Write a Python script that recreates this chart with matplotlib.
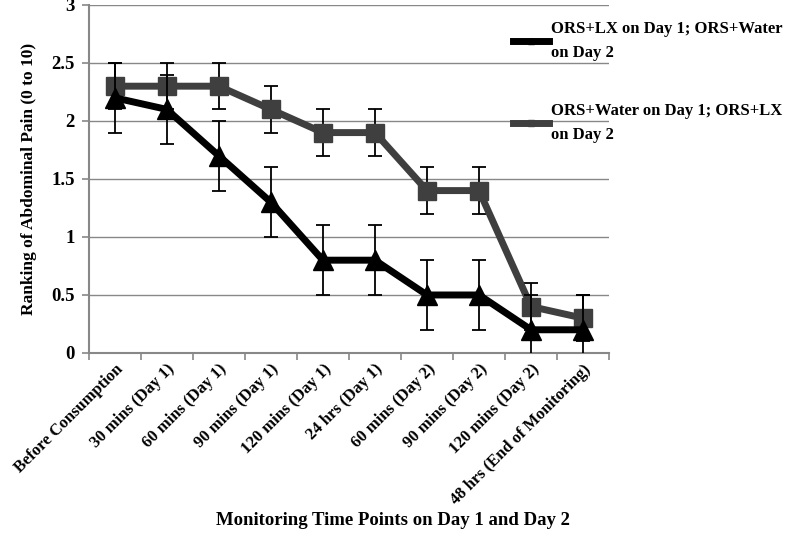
import matplotlib.pyplot as plt
import numpy as np

plt.rcParams['font.family'] = ['Liberation Serif', 'DejaVu Serif']

time_points = ["Before Consumption", "30 mins (Day 1)", "60 mins (Day 1)",
               "90 mins (Day 1)", "120 mins (Day 1)", "24 hrs (Day 1)",
               "60 mins (Day 2)", "90 mins (Day 2)", "120 mins (Day 2)",
               "48 hrs (End of Monitoring)"]

lx_first = [2.2, 2.1, 1.7, 1.3, 0.8, 0.8, 0.5, 0.5, 0.2, 0.2]
lx_first_err = [0.3, 0.3, 0.3, 0.3, 0.3, 0.3, 0.3, 0.3, 0.3, 0.3]
water_first = [2.3, 2.3, 2.3, 2.1, 1.9, 1.9, 1.4, 1.4, 0.4, 0.3]
water_first_err = [0.2, 0.2, 0.2, 0.2, 0.2, 0.2, 0.2, 0.2, 0.2, 0.2]

label1 = "ORS+LX on Day 1; ORS+Water\non Day 2"
label2 = "ORS+Water on Day 1; ORS+LX\non Day 2"

fig = plt.figure(figsize=(7.85, 5.55), dpi=100)
ax = fig.add_axes([0.113, 0.364, 0.663, 0.627])

x = np.arange(len(time_points))

ax.errorbar(x, lx_first, yerr=lx_first_err, color='black', lw=5,
            marker='^', ms=14, ecolor='black', elinewidth=1.3,
            capsize=5, capthick=1.3, label=label1, zorder=3)
ax.errorbar(x, water_first, yerr=water_first_err, color='#3f3f3f', lw=5,
            marker='s', ms=13, ecolor='black', elinewidth=1.3,
            capsize=5, capthick=1.3, label=label2, zorder=2)

ax.set_xlim(-0.5, len(time_points) - 0.5)
ax.set_ylim(0, 3)
ax.set_yticks(np.arange(0, 3.01, 0.5))
ax.set_yticklabels(['0', '0.5', '1', '1.5', '2', '2.5', '3'],
                   fontsize=13.5, fontweight='bold')
ax.yaxis.grid(True, color='#888888', lw=1)
ax.set_axisbelow(True)

ax.set_xticks(x)
ax.set_xticklabels(time_points, rotation=45, ha='right',
                   rotation_mode='anchor', fontsize=12, fontweight='bold')
ax.tick_params(axis='x', length=0, pad=6)
ax.set_xticks(np.arange(-0.5, len(time_points), 1), minor=True)
ax.tick_params(axis='x', which='minor', length=5, color='#888888', width=1.2)
ax.tick_params(axis='y', length=5, color='#888888', width=1.2, pad=5)

for s in ['top', 'right']:
    ax.spines[s].set_visible(False)
for s in ['left', 'bottom']:
    ax.spines[s].set_color('#888888')
    ax.spines[s].set_linewidth(1.5)

ax.set_ylabel("Ranking of Abdominal Pain (0 to 10)", fontsize=12.5,
              fontweight='bold', labelpad=10)
fig.text(0.5, 0.062, "Monitoring Time Points on Day 1 and Day 2",
         ha='center', va='center', fontsize=13.5, fontweight='bold')

handles, labels = ax.get_legend_handles_labels()
handles = [h[0] for h in handles]
leg = fig.legend(handles, labels, loc='upper left',
                 bbox_to_anchor=(0.634, 0.99), frameon=False,
                 prop={'weight': 'bold', 'size': 12},
                 handlelength=2.2, handletextpad=0.1, labelspacing=2.5,
                 markerscale=0.35)
for t in leg.get_texts():
    t.set_linespacing(1.7)

fig.savefig("out.png", dpi=100)
